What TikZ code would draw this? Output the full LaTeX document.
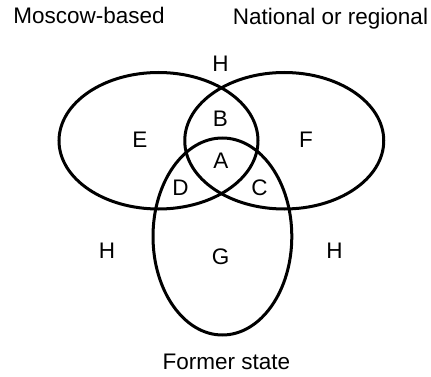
\documentclass[tikz,border=0pt]{standalone}
\usepackage{fontspec}
\setmainfont{Liberation Sans}
\begin{document}
\begin{tikzpicture}[x=1pt,y=-1pt,
  setline/.style={line width=3pt,black},
  lbl/.style={anchor=base,inner sep=0pt,font=\fontsize{22.5}{27}\selectfont}]
\useasboundingbox (0,0) rectangle (431,377);
% sets
\draw[setline] (158.5,140.75) ellipse [x radius=99.5pt, y radius=68.25pt];
\draw[setline] (284.25,140.75) ellipse [x radius=99.5pt, y radius=68.25pt];
\draw[setline] (222.4,236.5) ellipse [x radius=69.4pt, y radius=98.5pt];
% titles
\node[lbl] (moscow) at (89,24) {Moscow-based};
\node[lbl] (national) at (330.5,25) {National or regional};
\node[lbl] (former) at (226.5,369) {Former state};
% regions
\node[lbl] (htop) at (220.5,71.5) {H};
\node[lbl] (b) at (220.5,127) {B};
\node[lbl] (e) at (140,148) {E};
\node[lbl] (f) at (306,148) {F};
\node[lbl] (a) at (221,168) {A};
\node[lbl] (d) at (180.5,195) {D};
\node[lbl] (c) at (259.5,195) {C};
\node[lbl] (hleft) at (107,258) {H};
\node[lbl] (hright) at (334.5,258) {H};
\node[lbl] (g) at (220.5,264.5) {G};
\end{tikzpicture}
\end{document}
